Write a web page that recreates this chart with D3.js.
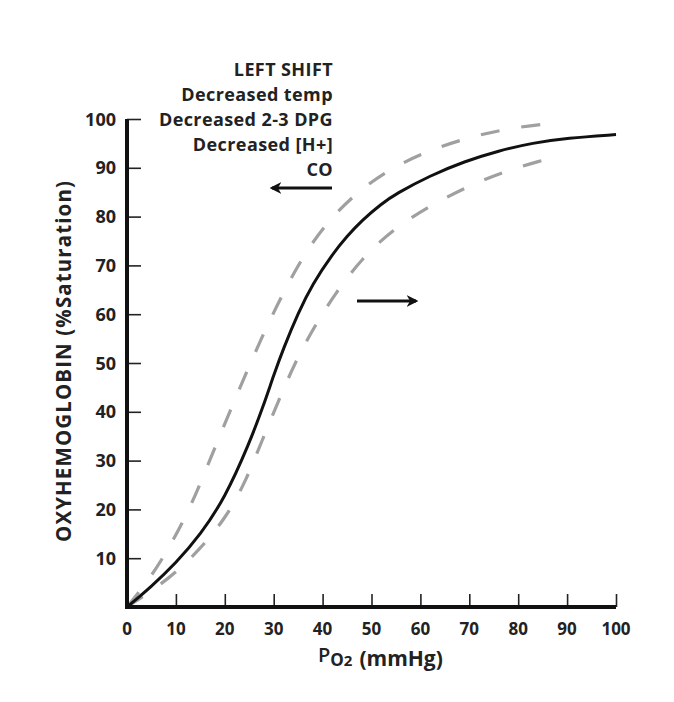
<!DOCTYPE html>
<html>
<head>
<meta charset="utf-8">
<script src="https://cdn.jsdelivr.net/npm/d3@7"></script>
<style>
  body { margin: 0; background: #fff; }
  svg text { font-family: "Open Sans", "Noto Sans", sans-serif; font-weight: 700; fill: #222; }
</style>
</head>
<body>
<svg id="chart"></svg>
<script>
// normal curve (solid)
var normalPO2 = [0, 5, 10, 15, 20, 25, 28, 30, 32, 35, 38, 42, 45, 48, 52, 55, 62, 69, 76, 83, 90, 100];
var normalSat = [0, 4.2, 9, 14.8, 22.3, 33.5, 41.5, 47.5, 53, 60.3, 66.3, 72.3, 76, 79.2, 82.6, 84.7, 88.4, 91.3, 93.5, 95.1, 96.1, 96.8];

// left shift (dashed, upper)
var leftPO2 = [0, 5, 9.4, 13.2, 16.3, 19.6, 22.9, 26.2, 29.6, 33.4, 37.5, 42.8, 49, 56, 64, 72, 80, 88];
var leftSat = [0, 6.2, 13.5, 21, 28.5, 36.6, 44.5, 52.2, 59.6, 67.2, 74.3, 81, 86.6, 91, 94.4, 96.8, 98.4, 99.2];

// right shift (dashed, lower)
var rightPO2 = [0, 8.9, 15, 20.4, 24.4, 27.6, 30.9, 34.2, 38.2, 42.8, 48.1, 54.3, 61.4, 68.9, 76.6, 84.8, 87.5];
var rightSat = [0, 5.9, 11.9, 18.5, 26, 34.1, 42, 49.8, 57.3, 64.6, 71.5, 77.3, 81.9, 85.8, 89.1, 91.5, 92.2];

var xTicks = [0, 10, 20, 30, 40, 50, 60, 70, 80, 90, 100];
var yTicks = [10, 20, 30, 40, 50, 60, 70, 80, 90, 100];
var shiftLines = ["LEFT SHIFT", "Decreased temp", "Decreased 2-3 DPG", "Decreased [H+]", "CO"];

var screen = {width: 674, height: 702};
var margins = {left: 127, top: 119, right: 58, bottom: 95};
var graph = {
    width: screen.width - margins.left - margins.right,
    height: screen.height - margins.top - margins.bottom
};

var svg = d3.select("#chart")
    .attr("width", screen.width)
    .attr("height", screen.height);

svg.append("rect")
    .attr("width", screen.width)
    .attr("height", screen.height)
    .attr("fill", "#fff");

var xScale = d3.scaleLinear().domain([0, 100]).range([0, graph.width]);
var yScale = d3.scaleLinear().domain([0, 100]).range([graph.height, 0]);

var target = svg.append("g")
    .attr("transform", "translate(" + margins.left + "," + margins.top + ")");

// curves
var line = d3.line()
    .x(function(d) { return xScale(d[0]); })
    .y(function(d) { return yScale(d[1]); })
    .curve(d3.curveBasis);

var zip = function(xs, ys) {
    return xs.map(function(x, i) { return [x, ys[i]]; });
};

target.append("path")
    .datum(zip(leftPO2, leftSat))
    .attr("d", line)
    .attr("fill", "none")
    .attr("stroke", "#a0a0a0")
    .attr("stroke-width", 3.2)
    .attr("stroke-dasharray", "19,22");

target.append("path")
    .datum(zip(rightPO2, rightSat))
    .attr("d", line)
    .attr("fill", "none")
    .attr("stroke", "#a0a0a0")
    .attr("stroke-width", 3.2)
    .attr("stroke-dasharray", "19,22");

target.append("path")
    .datum(zip(normalPO2, normalSat))
    .attr("d", line)
    .attr("fill", "none")
    .attr("stroke", "#111")
    .attr("stroke-width", 3);

// axes
var xAxis = d3.axisTop(xScale).tickValues(xTicks).tickSize(13).tickFormat("");
var yAxis = d3.axisRight(yScale).tickValues(yTicks).tickSize(14).tickFormat("");

var gx = target.append("g")
    .attr("transform", "translate(0," + graph.height + ")")
    .call(xAxis);
var gy = target.append("g").call(yAxis);

[gx, gy].forEach(function(g) {
    g.select(".domain").remove();
    g.selectAll(".tick line").attr("stroke", "#222").attr("stroke-width", 1.6);
});

target.append("line")
    .attr("x1", 0).attr("x2", 0)
    .attr("y1", yScale(100)).attr("y2", yScale(0) + 2)
    .attr("stroke", "#111").attr("stroke-width", 4);
target.append("line")
    .attr("x1", -2).attr("x2", xScale(100))
    .attr("y1", yScale(0)).attr("y2", yScale(0))
    .attr("stroke", "#111").attr("stroke-width", 4);

// tick labels
target.selectAll(".xlab")
    .data(xTicks)
    .enter()
    .append("text")
    .attr("x", function(d) { return xScale(d); })
    .attr("y", graph.height + 28)
    .attr("text-anchor", "middle")
    .style("font-size", "17px")
    .text(function(d) { return d; });

target.selectAll(".ylab")
    .data(yTicks)
    .enter()
    .append("text")
    .attr("x", -11)
    .attr("y", function(d) { return yScale(d) + 6.5; })
    .attr("text-anchor", "end")
    .style("font-size", "18px")
    .text(function(d) { return d; });

// axis titles
var xTitle = svg.append("text")
    .attr("x", 318)
    .attr("y", 662);
xTitle.append("tspan").style("font-size", "20px").style("font-weight", 600).text("P");
xTitle.append("tspan").attr("dy", 4).style("font-size", "17px").text("O");
xTitle.append("tspan").style("font-size", "15px").text("2");
xTitle.append("tspan").attr("dy", 0).attr("dx", 7).style("font-size", "21px").text("(mmHg)");

svg.append("text")
    .attr("transform", "translate(71,361) rotate(-90)")
    .attr("text-anchor", "middle")
    .style("font-size", "20.5px")
    .style("letter-spacing", "1.1px")
    .text("OXYHEMOGLOBIN (%Saturation)");

// left shift annotation
svg.selectAll(".shift")
    .data(shiftLines)
    .enter()
    .append("text")
    .attr("x", 333)
    .attr("y", function(d, i) { return 76 + i * 25; })
    .attr("text-anchor", "end")
    .style("font-size", "18px")
    .style("letter-spacing", "0.4px")
    .text(function(d) { return d; });

// arrows
var defs = svg.append("defs");
defs.append("marker")
    .attr("id", "head")
    .attr("viewBox", "0 0 10 10")
    .attr("refX", 8).attr("refY", 5)
    .attr("markerWidth", 4.2).attr("markerHeight", 4.2)
    .attr("orient", "auto")
    .append("path")
    .attr("d", "M0,0 L10,5 L0,10 L3,5 Z")
    .attr("fill", "#111");

svg.append("line")
    .attr("x1", 332).attr("y1", 188)
    .attr("x2", 272).attr("y2", 188)
    .attr("stroke", "#111").attr("stroke-width", 2.8)
    .attr("marker-end", "url(#head)");

svg.append("line")
    .attr("x1", 357).attr("y1", 301)
    .attr("x2", 416).attr("y2", 301)
    .attr("stroke", "#111").attr("stroke-width", 2.8)
    .attr("marker-end", "url(#head)");
</script>
</body>
</html>
